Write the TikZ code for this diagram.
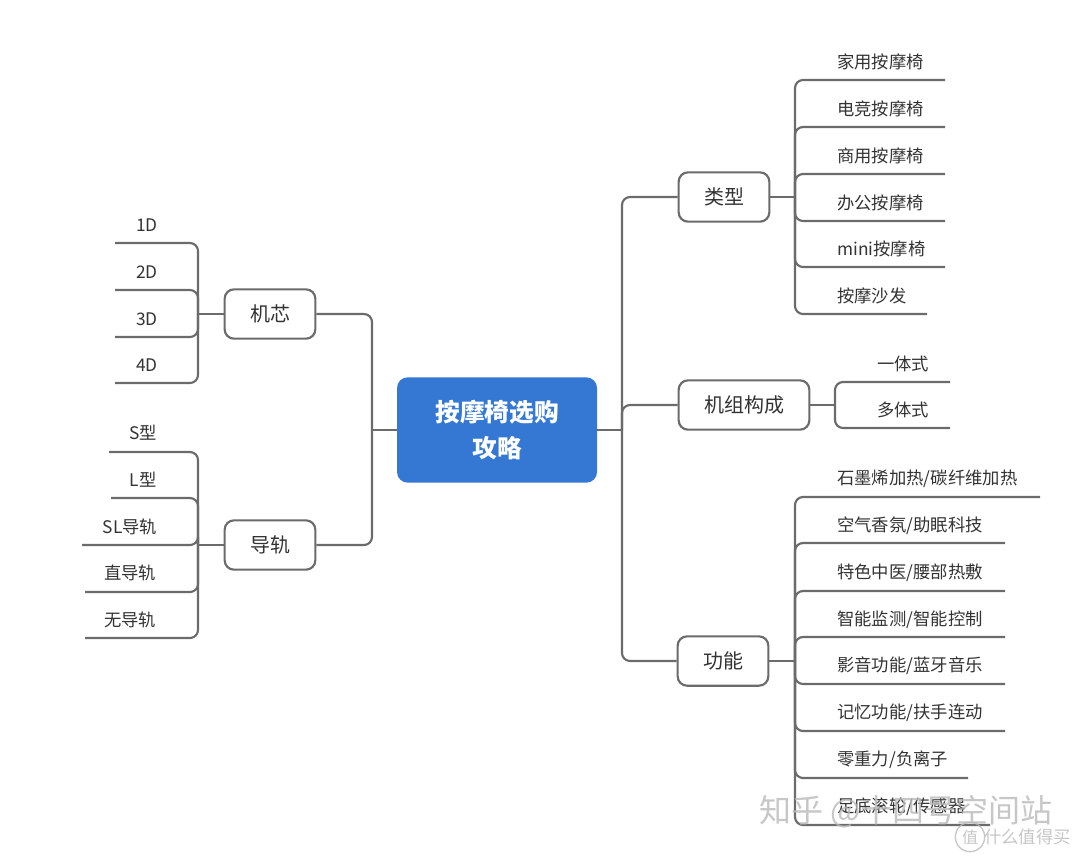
\documentclass[tikz,border=0pt]{standalone}
\usepackage{fontspec}
\setmainfont{Noto Sans CJK SC}
\usepackage{xcolor}
\usepackage{tikz}
\definecolor{linegray}{HTML}{6B6B6B}
\definecolor{textgray}{HTML}{333333}
\definecolor{rootblue}{HTML}{3478D4}
\tikzstyle{root}=[fill=rootblue, draw=none, rounded corners=8pt, minimum width=150pt, minimum height=79pt, text=white, font=\fontsize{18.5}{27}\selectfont\bfseries, align=center]
\tikzstyle{topic}=[fill=white, draw=linegray, line width=1.6pt, rounded corners=7pt, minimum height=37pt, inner xsep=19pt, text=textgray, font=\fontsize{15}{18}\selectfont]
\tikzstyle{leaf}=[text=textgray, font=\fontsize{13}{15}\selectfont, inner sep=0pt]
\tikzstyle{branch}=[draw=linegray, line width=1.6pt, rounded corners=6pt]
\tikzstyle{watermark}=[text=gray!55, opacity=0.8, inner sep=0pt]
\pgfdeclarelayer{nodelayer}
\pgfdeclarelayer{edgelayer}
\pgfsetlayers{edgelayer,nodelayer,main}

\begin{document}
\begin{tikzpicture}[x=0.75pt, y=-0.75pt]
	\useasboundingbox (0,0) rectangle (1080,858);
	\begin{pgfonlayer}{nodelayer}
		\node [style=root] (0) at (497,430) {按摩椅选购\\攻略};
		\node [style=topic] (1) at (270,314) {机芯};
		\node [style=topic] (2) at (270,545) {导轨};
		\node [style=topic] (3) at (724,197) {类型};
		\node [style=topic] (4) at (744,405) {机组构成};
		\node [style=topic] (5) at (723,661) {功能};
		% left leaves
		\node [style=leaf] (a1) at (147,225) {1D};
		\node [style=leaf] (a2) at (147,272) {2D};
		\node [style=leaf] (a3) at (147,319) {3D};
		\node [style=leaf] (a4) at (147,365) {4D};
		\node [style=leaf] (b1) at (143,433) {S型};
		\node [style=leaf] (b2) at (143,480) {L型};
		\node [style=leaf] (b3) at (130,527) {SL导轨};
		\node [style=leaf] (b4) at (130,573) {直导轨};
		\node [style=leaf] (b5) at (130,620) {无导轨};
		% right leaves
		\node [style=leaf, anchor=west] (c1) at (837,62) {家用按摩椅};
		\node [style=leaf, anchor=west] (c2) at (837,109) {电竞按摩椅};
		\node [style=leaf, anchor=west] (c3) at (837,156) {商用按摩椅};
		\node [style=leaf, anchor=west] (c4) at (837,203) {办公按摩椅};
		\node [style=leaf, anchor=west] (c5) at (837,249) {mini按摩椅};
		\node [style=leaf, anchor=west] (c6) at (837,296) {按摩沙发};
		\node [style=leaf, anchor=west] (d1) at (877,364) {一体式};
		\node [style=leaf, anchor=west] (d2) at (877,410) {多体式};
		\node [style=leaf, anchor=west] (e1) at (837,479) {石墨烯加热/碳纤维加热};
		\node [style=leaf, anchor=west] (e2) at (837,526) {空气香氛/助眠科技};
		\node [style=leaf, anchor=west] (e3) at (837,573) {特色中医/腰部热敷};
		\node [style=leaf, anchor=west] (e4) at (837,620) {智能监测/智能控制};
		\node [style=leaf, anchor=west] (e5) at (837,666) {影音功能/蓝牙音乐};
		\node [style=leaf, anchor=west] (e6) at (837,713) {记忆功能/扶手连动};
		\node [style=leaf, anchor=west] (e7) at (837,760) {零重力/负离子};
		\node [style=leaf, anchor=west] (e8) at (837,807) {足底滚轮/传感器};
	\end{pgfonlayer}
	\begin{pgfonlayer}{edgelayer}
		\fill [white] (0,0) rectangle (1080,858);
		\coordinate (j0) at (372,430);
		\coordinate (j1) at (622,430);
		\coordinate (j2) at (198,314);
		\coordinate (j3) at (198,545);
		\coordinate (j4) at (795,197);
		\coordinate (j5) at (835,405);
		\coordinate (j6) at (795,661);
		\coordinate (la1) at (115,243);
		\coordinate (la2) at (115,290);
		\coordinate (la3) at (115,337);
		\coordinate (la4) at (115,383);
		\coordinate (lb1) at (109,452);
		\coordinate (lb2) at (111,498);
		\coordinate (lb3) at (82,545);
		\coordinate (lb4) at (85,592);
		\coordinate (lb5) at (85,638);
		\coordinate (lc1) at (945,80);
		\coordinate (lc2) at (945,127);
		\coordinate (lc3) at (945,174);
		\coordinate (lc4) at (945,221);
		\coordinate (lc5) at (945,267);
		\coordinate (lc6) at (927,314);
		\coordinate (ld1) at (950,382);
		\coordinate (ld2) at (950,428);
		\coordinate (le1) at (1040,497);
		\coordinate (le2) at (1005,543);
		\coordinate (le3) at (1005,591);
		\coordinate (le4) at (1005,637);
		\coordinate (le5) at (1005,684);
		\coordinate (le6) at (1005,731);
		\coordinate (le7) at (968,778);
		\coordinate (le8) at (990,825);
		\draw [style=branch] (0.west) to (j0);
		\draw [style=branch] (0.east) to (j1);
		\draw [style=branch] (j0) |- (1.east);
		\draw [style=branch] (j0) |- (2.east);
		\draw [style=branch] (j1) |- (3.west);
		\draw [style=branch] (j1) |- (4.west);
		\draw [style=branch] (j1) |- (5.west);
		\draw [style=branch] (1.west) to (j2);
		\draw [style=branch] (2.west) to (j3);
		\draw [style=branch] (3.east) to (j4);
		\draw [style=branch] (4.east) to (j5);
		\draw [style=branch] (5.east) to (j6);
		\foreach \n in {la1,la2,la3,la4}
			\draw [style=branch] (j2) |- (\n);
		\foreach \n in {lb1,lb2,lb3,lb4,lb5}
			\draw [style=branch] (j3) |- (\n);
		\foreach \n in {lc1,lc2,lc3,lc4,lc5,lc6}
			\draw [style=branch] (j4) |- (\n);
		\foreach \n in {ld1,ld2}
			\draw [style=branch] (j5) |- (\n);
		\foreach \n in {le1,le2,le3,le4,le5,le6,le7,le8}
			\draw [style=branch] (j6) |- (\n);
	\end{pgfonlayer}
	% watermark
	\node [style=watermark, font=\fontsize{24}{26}\selectfont] (w0) at (906,812) {知乎 @十四号空间站};
	\node [style=watermark, draw=gray!55, line width=1pt, circle, minimum size=22pt, inner sep=1pt, font=\fontsize{12}{14}\selectfont] (w1) at (970,837) {值};
	\node [style=watermark, anchor=west, font=\fontsize{13}{15}\selectfont] (w2) at (984,837) {什么值得买};
\end{tikzpicture}
\end{document}
